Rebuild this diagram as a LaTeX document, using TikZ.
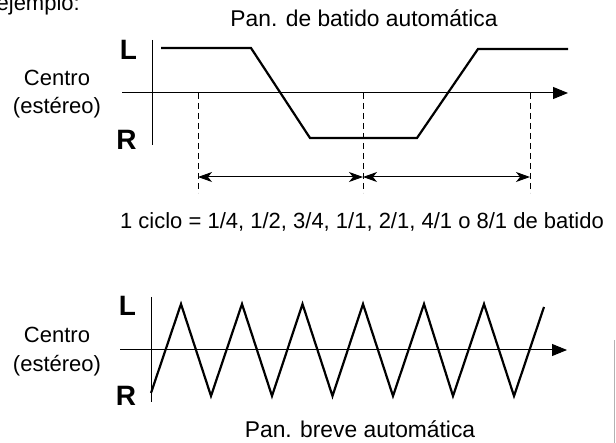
\documentclass[tikz,border=0pt]{standalone}
\usepackage{fontspec}
\setmainfont{Liberation Sans}
\usetikzlibrary{arrows.meta}
\begin{document}
\begin{tikzpicture}[x=1pt,y=-1pt,
  txt/.style={inner sep=0pt, font=\fontsize{22}{26}\selectfont},
  ttl/.style={inner sep=0pt, font=\fontsize{22.8}{26}\selectfont},
  lr/.style={inner sep=0pt, font=\fontsize{28}{32}\selectfont\bfseries},
  axline/.style={line width=1pt},
  ax/.style={line width=1pt, -{Triangle[length=15pt,width=12pt]}},
  wave/.style={line width=2.2pt, line join=miter},
  guide/.style={line width=1pt, dash pattern=on 6pt off 4pt},
  span/.style={line width=1pt, {Stealth[length=14pt,width=10pt,inset=4pt]}-{Stealth[length=14pt,width=10pt,inset=4pt]}}]
\useasboundingbox (0,0) rectangle (616,443);

% cut-off heading
\node[txt, anchor=base east] (ej) at (80,11) {ejemplo:};

% ---------- upper diagram ----------
\node[ttl, anchor=base] (t1) at (364,27) {Pan. de batido automática};
\node[txt, anchor=base] (c1) at (57,86) {Centro};
\node[txt, anchor=base] (e1) at (57,114) {(estéreo)};
\node[lr, anchor=base] (L1) at (128.5,60) {L};
\node[lr, anchor=base] (R1) at (126.5,150) {R};

\coordinate (v1t) at (152,40);
\coordinate (v1b) at (152,145);
\coordinate (h1s) at (122,93);
\coordinate (h1e) at (568,93);
\draw[axline] (v1t) -- (v1b);
\draw[ax] (h1s) -- (h1e);

\draw[wave] (161,48) -- (251,48) -- (310,138) -- (417,138) -- (478,49) -- (568,49);

\coordinate (d1t) at (198,93);  \coordinate (d1b) at (198,193);
\coordinate (d2t) at (363,93);  \coordinate (d2b) at (363,193);
\coordinate (d3t) at (530,93);  \coordinate (d3b) at (530,193);
\draw[guide] (d1t) -- (d1b);
\draw[guide] (d2t) -- (d2b);
\draw[guide] (d3t) -- (d3b);

\coordinate (a1) at (198,177);
\coordinate (a2) at (363,177);
\coordinate (a3) at (530,177);
\draw[span] (a1) -- (a2);
\draw[span] (a2) -- (a3);

\node[txt, anchor=base] (cy) at (362,229) {1 ciclo = 1/4, 1/2, 3/4, 1/1, 2/1, 4/1 o 8/1 de batido};

% ---------- lower diagram ----------
\node[txt, anchor=base] (c2) at (57,343) {Centro};
\node[txt, anchor=base] (e2) at (57,372) {(estéreo)};
\node[lr, anchor=base] (L2) at (127.5,316) {L};
\node[lr, anchor=base] (R2) at (126,406) {R};

\coordinate (v2t) at (151,297);
\coordinate (v2b) at (151,402);
\coordinate (h2s) at (120,350);
\coordinate (h2e) at (567,350);
\draw[axline] (v2t) -- (v2b);
\draw[ax] (h2s) -- (h2e);

\draw[wave] (151,393) -- (181,304) -- (211,396) -- (242,304) -- (272,396)
  -- (302.5,304) -- (332.5,396) -- (363,304) -- (393,396) -- (424,304)
  -- (453,396) -- (484,304) -- (514,396) -- (544,307);

\node[ttl, anchor=base] (t2) at (360,438) {Pan. breve automática};

% scan edge at right margin
\draw[gray!60, line width=0.8pt] (614.6,340) -- (614.6,443);
\end{tikzpicture}
\end{document}
